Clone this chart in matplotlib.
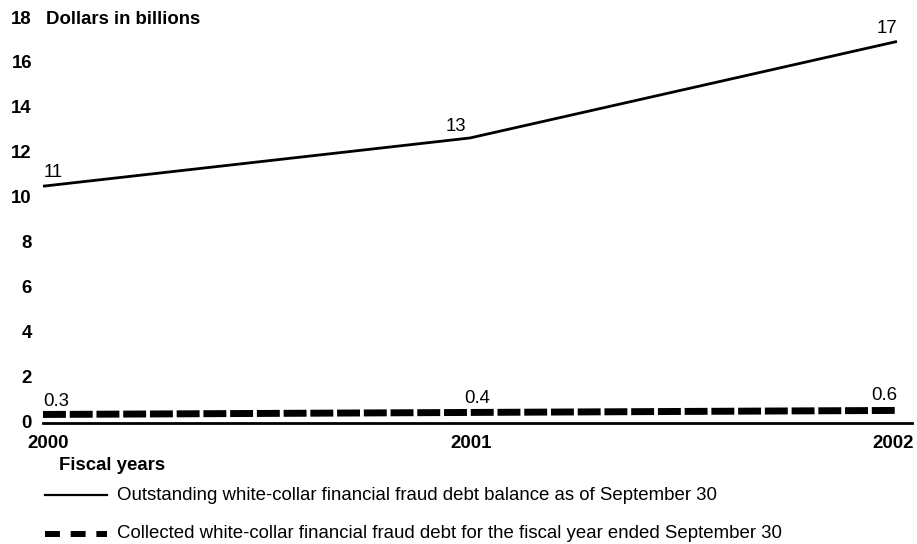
import matplotlib
matplotlib.use("Agg")
import matplotlib.pyplot as plt
import matplotlib.transforms as mtransforms
from matplotlib.lines import Line2D

plt.rcParams["font.family"] = ["Liberation Sans", "DejaVu Sans"]

# ---------------------------------------------------------------------------
# Data (dollars in billions)
# ---------------------------------------------------------------------------
years = [2000, 2001, 2002]
outstanding = [10.55, 12.7, 17.0]
outstanding_labels = ["11", "13", "17"]
collected = [0.38, 0.47, 0.56]
collected_labels = ["0.3", "0.4", "0.6"]
yticks = [0, 2, 4, 6, 8, 10, 12, 14, 16, 18]

W, H = 917, 544
FS = 13.4
fig = plt.figure(figsize=(W / 100, H / 100), dpi=100)

# axes box in pixels: x 43..912, y 19..423 (2002 sits at x = 897)
ax = fig.add_axes([43 / W, 1 - 423 / H, (912 - 43) / W, (423 - 19) / H])
ax.set_xlim(2000, 2002 + 15 / 427)
ax.set_ylim(0, 18)

ax.plot(years, outstanding, color="black", lw=2.0, solid_capstyle="butt",
        clip_on=False)
ax.plot(years, collected, color="black", lw=5.0, dashes=(3.3, 0.55),
        dash_capstyle="butt", clip_on=False)

for s in ["top", "right", "left"]:
    ax.spines[s].set_visible(False)
ax.spines["bottom"].set_linewidth(2.0)
ax.set_yticks([])
ax.set_xticks([])

# y tick labels, right aligned at x ~ 32 px
ytrans = mtransforms.blended_transform_factory(fig.transFigure, ax.transData)
for v in yticks:
    ax.text(32 / W, v, str(v), transform=ytrans, ha="right", va="center",
            fontsize=FS, fontweight="bold", clip_on=False)

fig.text(46 / W, 1 - 19 / H, "Dollars in billions", ha="left", va="center",
         fontsize=FS, fontweight="bold")

# x tick labels (pixel offsets from each tick)
xt_dx = [5, 1, -4]
for yr, dx in zip(years, xt_dx):
    ax.annotate(str(yr), (yr, 0), xytext=(dx, -21),
                textcoords="offset pixels", ha="center", va="center",
                fontsize=FS, fontweight="bold", annotation_clip=False)

fig.text(59 / W, 1 - 466 / H, "Fiscal years", ha="left", va="center",
         fontsize=FS, fontweight="bold")

# data labels (pixel offsets from each point)
out_off = [(1, 14, "left"), (-14, 11, "center"), (0, 13, "right")]
col_off = [(0, 13, "left"), (7, 14, "center"), (0, 15, "right")]
for x, y, t, (dx, dy, ha) in zip(years, outstanding, outstanding_labels, out_off):
    ax.annotate(t, (x, y), xytext=(dx, dy), textcoords="offset pixels",
                ha=ha, va="center", fontsize=FS, annotation_clip=False)
for x, y, t, (dx, dy, ha) in zip(years, collected, collected_labels, col_off):
    ax.annotate(t, (x, y), xytext=(dx, dy), textcoords="offset pixels",
                ha=ha, va="center", fontsize=FS, annotation_clip=False)

# legend drawn by hand below the axes
fig.add_artist(Line2D([45 / W, 107 / W], [1 - 495 / H, 1 - 495 / H],
                      color="black", lw=1.6, transform=fig.transFigure))
fig.text(117 / W, 1 - 495 / H,
         "Outstanding white-collar financial fraud debt balance as of September 30",
         ha="left", va="center", fontsize=FS)
fig.add_artist(Line2D([45 / W, 107 / W], [1 - 534 / H, 1 - 534 / H],
                      color="black", lw=4.3, dashes=(2.5, 1.8),
                      dash_capstyle="butt", transform=fig.transFigure))
fig.text(117 / W, 1 - 534 / H,
         "Collected white-collar financial fraud debt for the fiscal year ended September 30",
         ha="left", va="center", fontsize=FS)

fig.savefig("out.png", dpi=100)
